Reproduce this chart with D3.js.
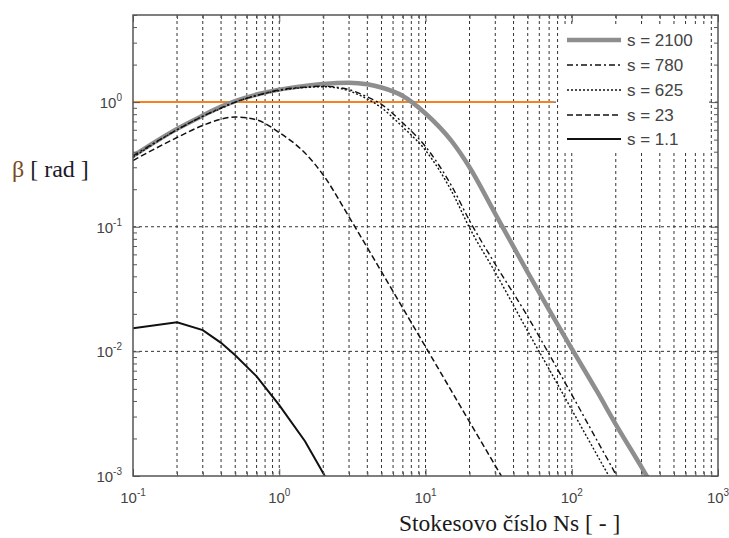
<!DOCTYPE html>
<html>
<head>
<meta charset="utf-8">
<script src="https://cdn.jsdelivr.net/npm/d3@7"></script>
<style>
  body { margin: 0; background: #fff; }
  svg { display: block; }
</style>
</head>
<body>
<svg id="chart" width="729" height="538"></svg>
<script>
// Stokes number samples (x axis)
var ns = [0.1, 0.2, 0.3, 0.4, 0.5, 0.7, 1, 1.5, 2, 3, 4, 5, 7, 10, 15, 20, 30, 50, 70, 100, 150, 200, 300, 400];

// beta [rad] for each s (null = not drawn)
var s2100 = [0.37, 0.61, 0.78, 0.92, 1.02, 1.15, 1.26, 1.35, 1.40, 1.43, 1.39, 1.31, 1.12, 0.81, 0.49, 0.30, 0.127, 0.043, 0.0215, 0.0105, 0.0047, 0.0026, 0.00118, 0.00066];
var s780 = [0.37, 0.60, 0.77, 0.90, 1.00, 1.13, 1.25, 1.32, 1.34, 1.26, 1.10, 0.96, 0.68, 0.44, 0.215, 0.112, 0.05, 0.019, 0.0095, 0.0045, 0.0019, 0.00103, 0.0004, null];
var s625 = [0.36, 0.60, 0.77, 0.89, 1.00, 1.13, 1.24, 1.31, 1.33, 1.23, 1.06, 0.90, 0.63, 0.41, 0.195, 0.098, 0.043, 0.0145, 0.0072, 0.0034, 0.00145, 0.00079, 0.0003, null];
var s23 = [0.34, 0.52, 0.65, 0.73, 0.76, 0.72, 0.57, 0.39, 0.26, 0.12, 0.068, 0.0436, 0.0222, 0.0109, 0.00484, 0.00272, 0.00121, 0.000436, null, null, null, null, null, null];
var s1_1 = [0.0153, 0.0171, 0.0148, 0.0117, 0.0093, 0.0063, 0.0037, 0.0019, 0.00105, 0.00045, null, null, null, null, null, null, null, null, null, null, null, null, null, null];

// orange reference line beta = 1
var refN = [0.1, 75];
var refBeta = [1, 1];

var xMajor = [0.1, 1, 10, 100, 1000];
var xExp = ["-1", "0", "1", "2", "3"];
var yMajor = [0.001, 0.01, 0.1, 1];
var yExp = ["-3", "-2", "-1", "0"];

var legendLabels = ["s = 2100", "s = 780", "s = 625", "s = 23", "s = 1.1"];

var series = [
  { name: legendLabels[0], values: s2100, color: "#8e8e8e", width: 4.5, dash: null, curve: d3.curveMonotoneX },
  { name: legendLabels[1], values: s780, color: "#111", width: 1.4, dash: "6,3,2,3", curve: d3.curveMonotoneX },
  { name: legendLabels[2], values: s625, color: "#111", width: 1.4, dash: "2,2", curve: d3.curveMonotoneX },
  { name: legendLabels[3], values: s23, color: "#111", width: 1.5, dash: "6,3", curve: d3.curveMonotoneX },
  { name: legendLabels[4], values: s1_1, color: "#111", width: 2, dash: null, curve: d3.curveLinear }
];

var svg = d3.select("#chart");
var pLeft = 133, pRight = 718, pTop = 15, pBottom = 476;

var x = d3.scaleLog().domain([0.1, 1000]).range([pLeft, pRight]);
var y = d3.scaleLog().domain([0.001, 5]).range([pBottom, pTop]);

// minor tick values
var xMinor = [];
for (var e = -1; e < 3; e++) {
  for (var m = 2; m <= 9; m++) xMinor.push(m * Math.pow(10, e));
}
var yMinor = [];
for (var e2 = -3; e2 <= 0; e2++) {
  for (var m2 = 2; m2 <= 9; m2++) {
    var v = m2 * Math.pow(10, e2);
    if (v <= 5) yMinor.push(v);
  }
}

// grid
var grid = svg.append("g");
grid.selectAll("line.vg")
  .data(xMinor.concat([1, 10, 100]))
  .enter().append("line")
  .attr("x1", function (d) { return x(d); })
  .attr("x2", function (d) { return x(d); })
  .attr("y1", pTop).attr("y2", pBottom)
  .attr("stroke", "#333").attr("stroke-width", 1)
  .attr("stroke-dasharray", "3,3");
grid.selectAll("line.hg")
  .data([0.01, 0.1, 1])
  .enter().append("line")
  .attr("x1", pLeft).attr("x2", pRight)
  .attr("y1", function (d) { return y(d); })
  .attr("y2", function (d) { return y(d); })
  .attr("stroke", "#333").attr("stroke-width", 1)
  .attr("stroke-dasharray", "3,3");

// clip
svg.append("clipPath").attr("id", "clip")
  .append("rect").attr("x", pLeft).attr("y", pTop)
  .attr("width", pRight - pLeft).attr("height", pBottom - pTop);

var plot = svg.append("g").attr("clip-path", "url(#clip)");

// orange line
plot.append("path")
  .datum(refN.map(function (n, i) { return [n, refBeta[i]]; }))
  .attr("fill", "none")
  .attr("stroke", "#f5821f")
  .attr("stroke-width", 2)
  .attr("d", d3.line().x(function (d) { return x(d[0]); }).y(function (d) { return y(d[1]); }));

// legend background (hides grid)
var lg = svg.append("g");
lg.append("rect")
  .attr("x", 559).attr("y", 25).attr("width", 149).attr("height", 127)
  .attr("fill", "#fff");

// curves
series.forEach(function (s) {
  var line = d3.line()
    .defined(function (d) { return d[1] != null; })
    .x(function (d) { return x(d[0]); })
    .y(function (d) { return y(d[1]); })
    .curve(s.curve);
  plot.append("path")
    .datum(ns.map(function (n, i) { return [n, s.values[i]]; }))
    .attr("fill", "none")
    .attr("stroke", s.color)
    .attr("stroke-width", s.width)
    .attr("stroke-dasharray", s.dash)
    .attr("d", line);
});

// frame and ticks
var axes = svg.append("g").attr("font-family", "Liberation Sans, Arial, sans-serif");
function tickAxis(axisFn, scale, vals, size, transform) {
  var g = axes.append("g").attr("transform", transform)
    .call(axisFn(scale).tickValues(vals).tickSizeInner(size).tickSizeOuter(0).tickFormat(""));
  g.select(".domain").remove();
  g.selectAll(".tick line").attr("stroke", "#555").attr("stroke-width", 1);
}
tickAxis(d3.axisLeft, y, yMajor, -7, "translate(" + pLeft + ",0)");
tickAxis(d3.axisLeft, y, yMinor, -4, "translate(" + pLeft + ",0)");
tickAxis(d3.axisRight, y, yMajor, -7, "translate(" + pRight + ",0)");
tickAxis(d3.axisRight, y, yMinor, -4, "translate(" + pRight + ",0)");
tickAxis(d3.axisBottom, x, xMajor, -7, "translate(0," + pBottom + ")");
tickAxis(d3.axisBottom, x, xMinor, -4, "translate(0," + pBottom + ")");
tickAxis(d3.axisTop, x, xMajor, -7, "translate(0," + pTop + ")");
tickAxis(d3.axisTop, x, xMinor, -4, "translate(0," + pTop + ")");

axes.append("rect")
  .attr("x", pLeft).attr("y", pTop)
  .attr("width", pRight - pLeft).attr("height", pBottom - pTop)
  .attr("fill", "none").attr("stroke", "#555").attr("stroke-width", 1.5);

// tick labels
xMajor.forEach(function (v, i) {
  var t = axes.append("text")
    .attr("x", x(v)).attr("y", 503)
    .attr("text-anchor", "middle")
    .attr("fill", "#444").attr("font-size", 15);
  t.append("tspan").text("10");
  t.append("tspan").attr("dy", -7).attr("font-size", 10).text(xExp[i]);
});
yMajor.forEach(function (v, i) {
  var t = axes.append("text")
    .attr("x", 122).attr("y", y(v) + 6)
    .attr("text-anchor", "end")
    .attr("fill", "#444").attr("font-size", 15);
  t.append("tspan").text("10");
  t.append("tspan").attr("dy", -7).attr("font-size", 10).text(yExp[i]);
});

// axis titles
var yt = svg.append("text")
  .attr("x", 12).attr("y", 177)
  .attr("font-family", "Liberation Serif, Times New Roman, serif")
  .attr("font-size", 24).attr("fill", "#1a1a2a");
yt.append("tspan").attr("fill", "#7a4a1e").text("β");
yt.append("tspan").text(" [ rad ]");

svg.append("text")
  .attr("x", 399).attr("y", 531)
  .attr("font-family", "Liberation Serif, Times New Roman, serif")
  .attr("font-size", 23.5).attr("fill", "#1a1a1a")
  .text("Stokesovo číslo Ns [ - ]");

// legend entries
var rowY = [40, 65, 90, 115, 139];
series.forEach(function (s, i) {
  lg.append("line")
    .attr("x1", 567).attr("x2", 621)
    .attr("y1", rowY[i]).attr("y2", rowY[i])
    .attr("stroke", s.color)
    .attr("stroke-width", s.width)
    .attr("stroke-dasharray", s.dash);
  lg.append("text")
    .attr("x", 627).attr("y", rowY[i] + 6)
    .attr("font-family", "Liberation Sans, Arial, sans-serif")
    .attr("font-size", 17).attr("fill", "#444")
    .text(s.name);
});
</script>
</body>
</html>
